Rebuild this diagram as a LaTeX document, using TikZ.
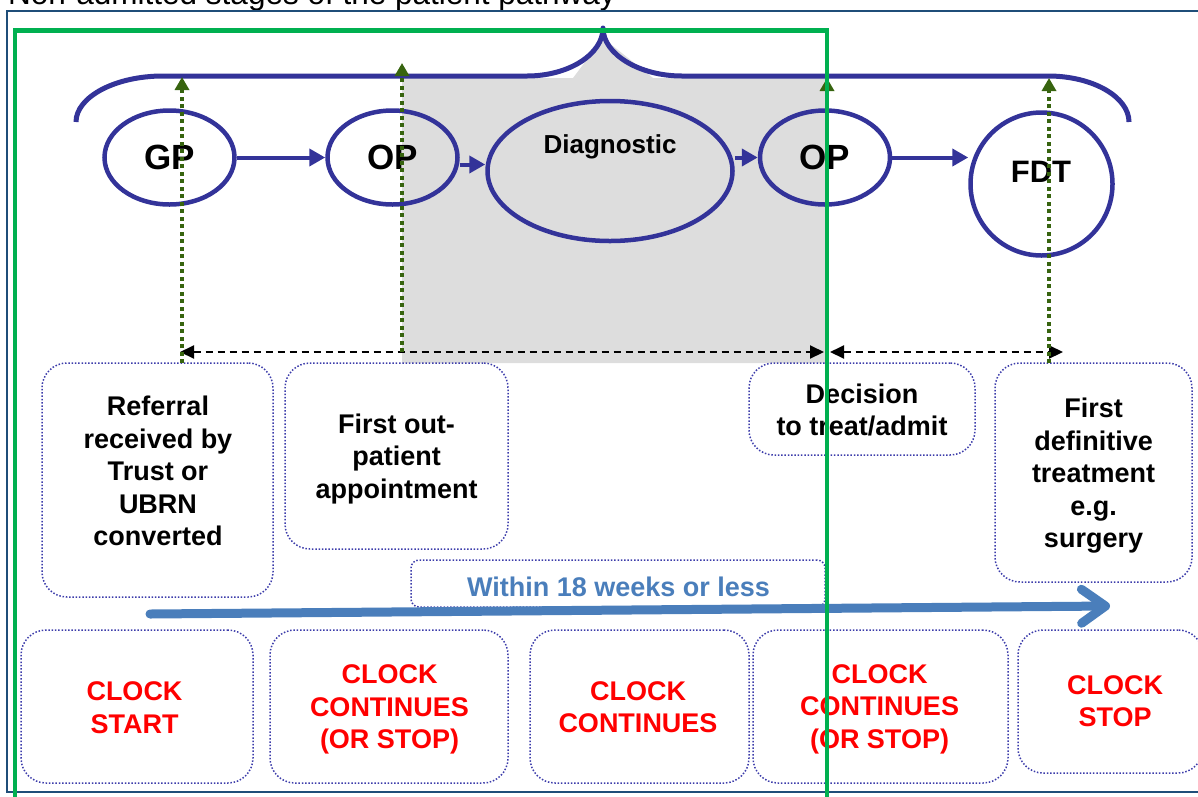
\documentclass[tikz,border=0pt]{standalone}
\usepackage{fontspec}
\setmainfont{Liberation Sans}
\usepackage{tikz}
\usetikzlibrary{shapes.geometric,arrows.meta}
\definecolor{pathblue}{RGB}{51,51,153}
\definecolor{slotblue}{RGB}{60,60,170}
\definecolor{frameblue}{RGB}{31,78,121}
\definecolor{zonegreen}{RGB}{0,176,80}
\definecolor{cuegreen}{RGB}{55,100,15}
\definecolor{greyzone}{RGB}{221,221,221}
\definecolor{weekblue}{RGB}{74,126,187}
\definecolor{clockred}{RGB}{255,0,0}
\tikzset{stage/.style={ellipse,draw=pathblue,line width=4.5pt,inner sep=0pt}}
\tikzset{flow/.style={-{Triangle[length=16pt,width=17pt]},draw=pathblue,line width=4pt}}
\tikzset{slot/.style={rectangle,draw=slotblue,line width=1.5pt,dash pattern=on 1.5pt off 1.8pt,rounded corners=25pt,inner sep=0pt}}
\tikzset{cue/.style={draw=cuegreen,line width=3.5pt,dash pattern=on 4pt off 3.5pt,-{Triangle[length=13pt,width=14pt]}}}
\tikzset{interval/.style={draw=black,line width=2pt,dash pattern=on 7pt off 5pt,{Triangle[length=14pt,width=13pt]}-{Triangle[length=14pt,width=13pt]}}}
\tikzset{bracket/.style={draw=pathblue,line width=5pt,line join=round}}
\tikzset{caption/.style={font=\fontsize{27pt}{32.5pt}\selectfont\bfseries,align=center,inner sep=0pt}}
\tikzset{clock/.style={caption,text=clockred}}
\tikzset{trend/.style={draw=weekblue,line width=9pt,line cap=round,-{Straight Barb[length=24pt,width=34pt,round]}}}

\begin{document}
\begin{tikzpicture}[x=1pt,y=-1pt]
\useasboundingbox (0,0) rectangle (1198,796);
\node[anchor=base west,inner sep=0pt,font=\fontsize{31.5pt}{36pt}\selectfont] (title) at (8,4) {Non-admitted stages of the patient pathway};

% shaded diagnostic phase
\fill[greyzone] (402,78) -- (573,78) -- (603,38) -- (653,78) -- (827,78) -- (827,363) -- (402,363) -- cycle;
\draw[frameblue,line width=2pt] (7,10.5) rectangle (1210,792);

\draw[bracket] (76,122) .. controls (76,97) and (115,76) .. (163,76) -- (527,76)
  .. controls (569,76) and (603,54) .. (603,28) .. controls (603,54) and (639,76) .. (682,76)
  -- (1048,76) .. controls (1093,76) and (1129,97) .. (1129,122);

% pathway stages
\node[stage,minimum width=130pt,minimum height=94pt,font=\fontsize{35pt}{40pt}\selectfont\bfseries] (gp) at (169.5,157.5) {GP};
\node[stage,minimum width=130pt,minimum height=94pt,font=\fontsize{35pt}{40pt}\selectfont\bfseries] (op1) at (392.5,157.5) {OP};
\node[stage,minimum width=245pt,minimum height=140pt] (diag) at (610,171) {};
\node[font=\fontsize{26pt}{30pt}\selectfont\bfseries,inner sep=0pt] (diaglbl) at (610,147) {Diagnostic};
\node[stage,minimum width=130pt,minimum height=94pt,font=\fontsize{35pt}{40pt}\selectfont\bfseries] (op2) at (825,157.5) {OP};
\node[stage,minimum width=142pt,minimum height=143pt] (fdt) at (1041.5,184) {};
\node[font=\fontsize{31pt}{36pt}\selectfont\bfseries,inner sep=0pt] (fdtlbl) at (1041,172) {FDT};

\draw[flow] (gp) -- (op1);
\draw[flow] ([yshift=-7pt]op1.east) -- ([yshift=-7pt]op1.east -| diag.west);
\draw[flow] (diag.east |- op2.west) -- (op2.west);
\draw[flow] (op2.east) -- (op2.east -| fdt.west);

% event boxes
\node[slot,minimum width=231pt,minimum height=234pt] (refbox) at (157.5,480) {};
\node[caption] (reftxt) at (158,471) {Referral\\received by\\Trust or\\UBRN\\converted};
\node[slot,minimum width=223pt,minimum height=186pt] (opbox) at (396.5,456) {};
\node[caption] (optxt) at (396.5,458.7) {First out-\\patient\\appointment};
\node[slot,minimum width=226pt,minimum height=92pt] (decbox) at (862,409) {};
\node[caption] (dectxt) at (862,410) {Decision\\to treat/admit};
\node[slot,minimum width=197pt,minimum height=219pt] (fdtbox) at (1093.5,472.5) {};
\node[caption] (fdttxt) at (1093.5,476) {First\\definitive\\treatment\\e.g.\\surgery};
\node[slot,rounded corners=8pt,minimum width=414pt,minimum height=47pt] (weekbox) at (618,583.5) {};
\node[caption,text=weekblue] (weektxt) at (618.5,587) {Within 18 weeks or less};

% clock status
\node[slot,minimum width=232pt,minimum height=153pt] (clk1) at (137,706.5) {};
\node[clock] (clk1txt) at (134.5,707.7) {CLOCK\\START};
\node[slot,minimum width=238pt,minimum height=153pt] (clk2) at (389,706.5) {};
\node[clock] (clk2txt) at (389.5,709.5) {CLOCK\\CONTINUES\\(OR STOP)};
\node[slot,minimum width=219pt,minimum height=153pt] (clk3) at (639.5,706.5) {};
\node[clock] (clk3txt) at (638,707) {CLOCK\\CONTINUES};
\node[slot,minimum width=255pt,minimum height=153pt] (clk4) at (880.5,706.5) {};
\node[clock] (clk4txt) at (879.5,709) {CLOCK\\CONTINUES\\(OR STOP)};
\node[slot,minimum width=185pt,minimum height=143pt] (clk5) at (1110.5,701.5) {};
\node[clock] (clk5txt) at (1115,701) {CLOCK\\STOP};

% milestones and intervals
\coordinate (gpfoot) at (182,363);
\coordinate (gptip) at (182,77);
\coordinate (opfoot) at (402,352);
\coordinate (optip) at (402,63);
\coordinate (decfoot) at (827,352);
\coordinate (dectip) at (827,78);
\coordinate (fdtfoot) at (1049,363);
\coordinate (fdttip) at (1049,78);
\coordinate (ivA) at (180,352);
\coordinate (ivB) at (824,352);
\coordinate (ivC) at (830,352);
\coordinate (ivD) at (1063,352);
\draw[interval] (ivA) -- (ivB);
\draw[interval] (ivC) -- (ivD);
\draw[cue] (gpfoot) -- (gptip);
\draw[cue] (opfoot) -- (optip);
\draw[cue] (decfoot) -- (dectip);
\draw[cue] (fdtfoot) -- (fdttip);

\coordinate (wstart) at (150,614);
\coordinate (wend) at (1110,606);
\draw[trend] (wstart) -- (wend);

% 18 week window
\draw[zonegreen,line width=4.5pt] (15,30.5) rectangle (827,810);
\end{tikzpicture}
\end{document}
